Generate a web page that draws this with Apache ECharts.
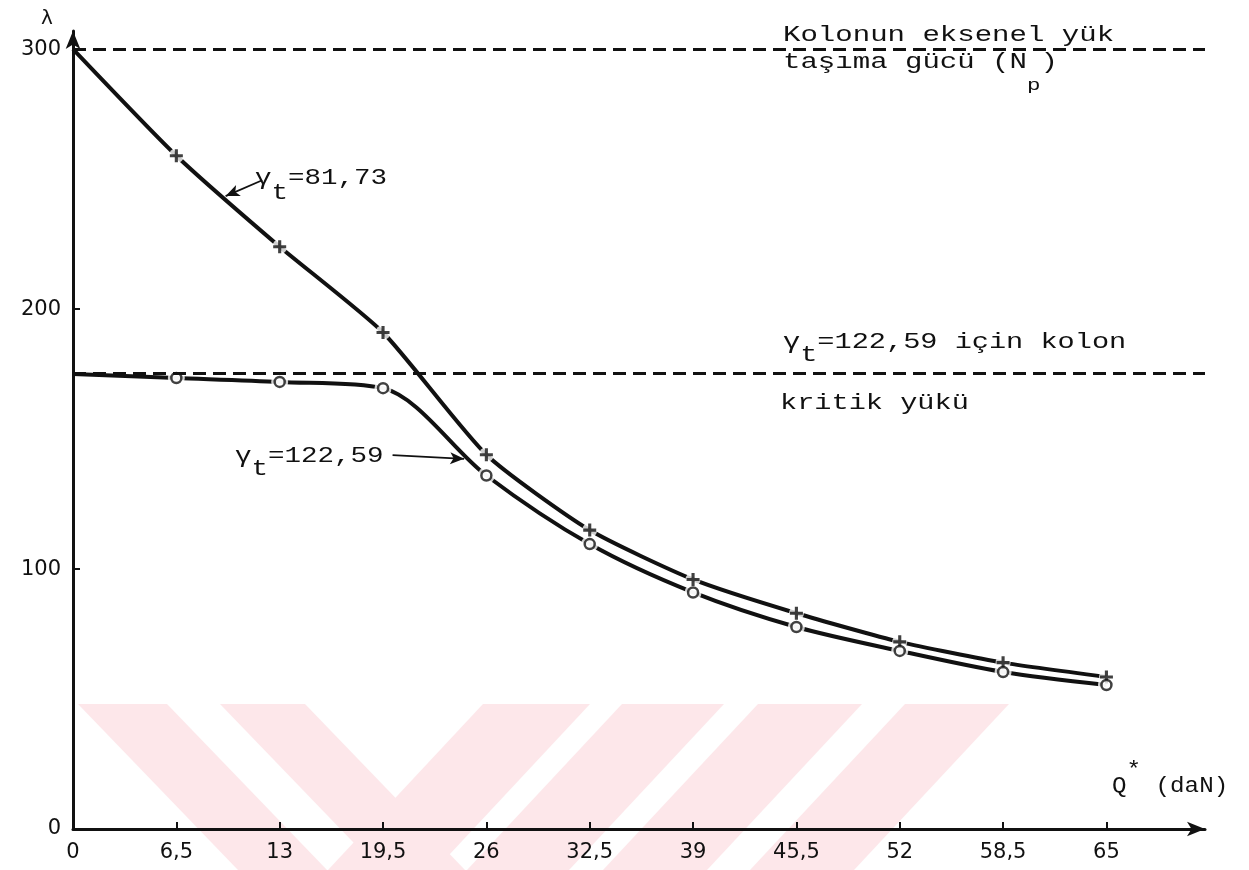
<!DOCTYPE html>
<html>
<head>
<meta charset="utf-8">
<script src="https://cdn.jsdelivr.net/npm/echarts@6/dist/echarts.min.js"></script>
<style>
html,body{margin:0;padding:0;background:#ffffff;}
#chart{width:1249px;height:870px;}
</style>
</head>
<body>
<div id="chart"></div>
<script>
// ---- data ----
const qValues = [0, 6.5, 13, 19.5, 26, 32.5, 39, 45.5, 52, 58.5, 65];
const qTickLabels = ['0', '6,5', '13', '19,5', '26', '32,5', '39', '45,5', '52', '58,5', '65'];
const lambdaTicks = [0, 100, 200, 300];
const lambdaTickLabels = ['0', '100', '200', '300'];
const lambdaGamma8173 = [300, 259, 224, 191, 144, 115, 96, 83, 72, 64, 58.5];
const lambdaGamma12259 = [175, 173.5, 172, 169.6, 136, 109.6, 91, 77.7, 68.5, 60.4, 55.4];
const axialCapacityNp = 300;
const criticalLoad12259 = 175.4;

// ---- build ----
const INK = '#111111';
const MONO = '"Liberation Mono", "DejaVu Sans Mono", monospace';
const pairs = (ys) => qValues.map((q, i) => [q, ys[i]]);
const markerPairs = (ys) => pairs(ys).slice(1);
const PLUS = 'path://M3.8,0 L6.2,0 L6.2,3.8 L10,3.8 L10,6.2 L6.2,6.2 L6.2,10 L3.8,10 L3.8,6.2 L0,6.2 L0,3.8 L3.8,3.8 Z';

const chart = echarts.init(document.getElementById('chart'), null, {renderer: 'canvas'});

function stripe(xl, xr, dx, color) {
  return {
    type: 'polygon', z: -10, silent: true,
    shape: {points: [[xl, 704], [xr, 704], [xr + dx, 870], [xl + dx, 870]]},
    style: {fill: color}
  };
}
const PINK = '#fde7ea';

const baseRich = (subPad, subSize) => ({
  g: {fontFamily: MONO, fontSize: 22, verticalAlign: 'top', fill: INK},
  s: {fontFamily: MONO, fontSize: subSize, verticalAlign: 'bottom', padding: [subPad, 0, 0, 0], fill: INK}
});

function label(x, y, text, rich, sx) {
  return {
    type: 'text', x: x, y: y, scaleX: sx || 1.28, z: 20, silent: true,
    style: {
      text: text, fill: INK, font: '22px ' + MONO,
      align: 'left', verticalAlign: 'top', textAlign: 'left', textVerticalAlign: 'top',
      rich: rich
    }
  };
}

const option = {
  backgroundColor: '#ffffff',
  animation: false,
  grid: {left: 73, right: 44, top: 31, bottom: 41, containLabel: false},
  xAxis: {
    type: 'value', min: 0, max: 71.2,
    axisLine: {show: true, symbol: ['none', 'arrow'], symbolSize: [11, 18], lineStyle: {color: INK, width: 3}},
    axisTick: {show: true, inside: true, length: 7, customValues: qValues, lineStyle: {color: INK, width: 2}},
    axisLabel: {
      show: true, customValues: qValues, margin: 13, color: INK, fontSize: 21, fontFamily: 'DejaVu Sans',
      formatter: (v) => { const i = qValues.findIndex(q => Math.abs(q - v) < 1e-6); return i >= 0 ? qTickLabels[i] : ''; }
    },
    splitLine: {show: false}
  },
  yAxis: {
    type: 'value', min: 0, max: 307,
    axisLine: {show: true, symbol: ['none', 'arrow'], symbolSize: [11, 18], lineStyle: {color: INK, width: 3}},
    axisTick: {show: true, inside: true, length: 7, customValues: lambdaTicks, lineStyle: {color: INK, width: 2}},
    axisLabel: {
      show: true, customValues: lambdaTicks, margin: 12, color: INK, fontSize: 21, fontFamily: 'DejaVu Sans',
      formatter: (v) => { const i = lambdaTicks.indexOf(v); return i >= 0 ? lambdaTickLabels[i] : ''; }
    },
    splitLine: {show: false}
  },
  series: [
    {
      name: 'γt=81,73', type: 'line', data: pairs(lambdaGamma8173), smooth: 0.2,
      symbol: 'none', lineStyle: {color: INK, width: 4}, z: 2,
      markLine: {
        silent: true, symbol: ['none', 'none'], z: 5,
        label: {show: false},
        lineStyle: {color: INK, width: 3, type: [13, 7]},
        data: [{yAxis: axialCapacityNp}, {yAxis: criticalLoad12259}]
      }
    },
    {
      name: 'γt=122,59', type: 'line', data: pairs(lambdaGamma12259), smooth: 0.3,
      symbol: 'none', lineStyle: {color: INK, width: 4}, z: 2,
      markLine: {
        silent: true, symbol: ['none', 'arrow'], symbolSize: [9, 14], z: 6,
        label: {show: false},
        lineStyle: {color: INK, width: 1.8, type: 'solid'},
        data: [
          [{coord: [11.9, 249.6]}, {coord: [9.6, 243.5]}],
          [{coord: [20.1, 143.8]}, {coord: [24.6, 142.4]}]
        ]
      }
    },
    {
      type: 'scatter', data: markerPairs(lambdaGamma8173), symbol: 'circle', symbolSize: 15,
      itemStyle: {color: '#ffffff'}, z: 3, silent: true
    },
    {
      type: 'scatter', data: markerPairs(lambdaGamma12259), symbol: 'circle', symbolSize: 17,
      itemStyle: {color: '#ffffff'}, z: 3, silent: true
    },
    {
      type: 'scatter', data: markerPairs(lambdaGamma8173), symbol: PLUS, symbolSize: 13,
      itemStyle: {color: INK}, z: 4, silent: true
    },
    {
      type: 'scatter', data: markerPairs(lambdaGamma12259), symbol: 'circle', symbolSize: 10,
      itemStyle: {color: '#ffffff', borderColor: INK, borderWidth: 2.5}, z: 4, silent: true
    }
  ],
  graphic: {
    elements: [
      stripe(78, 167, 160, PINK),
      stripe(220, 305, 160, PINK),
      stripe(483, 590, -155, PINK),
      stripe(622, 724, -155, PINK),
      stripe(758, 862, -155, PINK),
      stripe(905, 1009, -155, PINK),
      {
        type: 'text', x: 47, y: 19, z: 20, silent: true,
        style: {text: 'λ', fill: INK, font: '20px "DejaVu Sans"', align: 'center', verticalAlign: 'middle', textAlign: 'center', textVerticalAlign: 'middle'}
      },
      label(783, 24, '{g|Kolonun eksenel yük}', baseRich(0, 22), 1.32),
      label(783, 51, '{g|taşıma gücü (N}{s|p}{g|)}', baseRich(26, 17), 1.32),
      label(783, 331, '{g|γ}{s|t}{g|=122,59 için kolon}', baseRich(13, 22), 1.3),
      label(780, 392, '{g|kritik yükü}', baseRich(0, 22), 1.3),
      label(255, 167, '{g|γ}{s|t}{g|=81,73}', baseRich(15, 22), 1.25),
      label(235, 445, '{g|γ}{s|t}{g|=122,59}', baseRich(13, 22), 1.25),
      {
        type: 'text', x: 1112, y: 759, scaleX: 1.1, z: 20, silent: true,
        style: {
          text: '{u|Q}{w|*}{u| (daN)}', fill: INK, font: '22px ' + MONO,
          align: 'left', verticalAlign: 'top', textAlign: 'left', textVerticalAlign: 'top',
          rich: {
            u: {fontFamily: MONO, fontSize: 22, verticalAlign: 'bottom', padding: [16, 0, 0, 0], fill: INK},
            w: {fontFamily: MONO, fontSize: 22, verticalAlign: 'top', fill: INK}
          }
        }
      }
    ]
  }
};
chart.setOption(option);
</script>
</body>
</html>
